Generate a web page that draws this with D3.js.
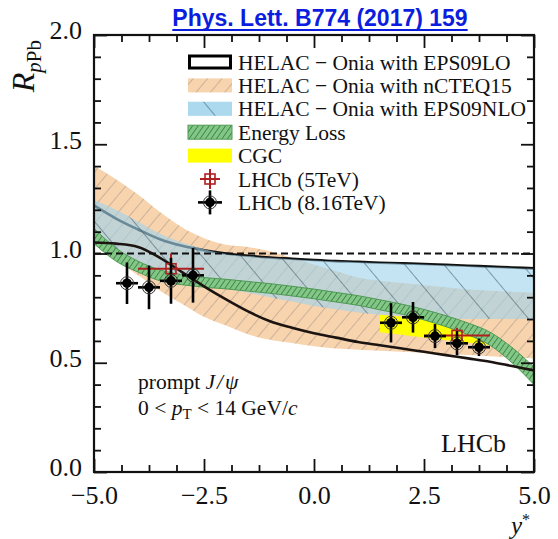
<!DOCTYPE html>
<html>
<head>
<meta charset="utf-8">
<script src="https://cdn.jsdelivr.net/npm/d3@7"></script>
<style>
  body { margin: 0; background: #fff; }
  svg { display: block; }
</style>
</head>
<body>
<div id="chart"></div>
<script>
// Data
const yStar = [-5, -4.5, -4, -3.5, -3, -2.5, -2, -1.5, -1, -0.5, 0, 0.5, 1, 1.5, 2, 2.5, 3, 3.5, 4, 4.5, 5]

const eps09loUpper = [1.22, 1.16, 1.11, 1.065, 1.035, 1.015, 1.0, 0.99, 0.982, 0.976, 0.97, 0.965, 0.962, 0.958, 0.955, 0.952, 0.948, 0.944, 0.94, 0.936, 0.932]
const eps09loLower = [1.05, 1.045, 1.03, 0.98, 0.915, 0.85, 0.79, 0.735, 0.69, 0.66, 0.635, 0.615, 0.595, 0.58, 0.565, 0.55, 0.535, 0.52, 0.505, 0.485, 0.465]

const ncteqUpper = [1.40, 1.34, 1.27, 1.19, 1.12, 1.07, 1.04, 1.03, 1.01, 0.98, 0.95, 0.92, 0.89, 0.875, 0.865, 0.855, 0.845, 0.835, 0.83, 0.825, 0.82]
const ncteqLower = [1.05, 0.97, 0.9, 0.83, 0.77, 0.71, 0.67, 0.63, 0.605, 0.59, 0.575, 0.565, 0.56, 0.555, 0.55, 0.545, 0.54, 0.535, 0.53, 0.525, 0.52]

const eps09nloUpper = [1.245, 1.2, 1.145, 1.09, 1.05, 1.02, 0.998, 0.988, 0.98, 0.974, 0.968, 0.963, 0.96, 0.956, 0.953, 0.95, 0.946, 0.942, 0.938, 0.934, 0.93]
const eps09nloLower = [1.05, 1.0, 0.96, 0.92, 0.89, 0.86, 0.84, 0.82, 0.8, 0.78, 0.76, 0.745, 0.73, 0.72, 0.715, 0.71, 0.705, 0.70, 0.70, 0.70, 0.70]

const elossUpper = [1.115, 1.025, 0.965, 0.925, 0.903, 0.89, 0.882, 0.872, 0.862, 0.85, 0.837, 0.822, 0.807, 0.788, 0.768, 0.744, 0.715, 0.682, 0.64, 0.57, 0.48]
const elossLower = [1.045, 0.965, 0.915, 0.875, 0.857, 0.846, 0.838, 0.828, 0.818, 0.806, 0.793, 0.778, 0.763, 0.742, 0.722, 0.696, 0.665, 0.628, 0.58, 0.5, 0.40]

const cgcY = [1.5, 2, 2.5, 3, 3.5, 4]
const cgcUpper = [0.72, 0.71, 0.70, 0.68, 0.655, 0.635]
const cgcLower = [0.64, 0.628, 0.615, 0.603, 0.592, 0.58]

const lhcb8Y = [-4.25, -3.75, -3.25, -2.75, 1.75, 2.25, 2.75, 3.25, 3.75]
const lhcb8R = [0.864, 0.845, 0.875, 0.90, 0.683, 0.708, 0.622, 0.589, 0.571]
const lhcb8Err = [0.095, 0.10, 0.105, 0.125, 0.09, 0.07, 0.055, 0.055, 0.04]
const lhcb8HalfBin = 0.25

const lhcb5Y = [-3.25, 3.25]
const lhcb5R = [0.93, 0.625]
const lhcb5BinLo = [-4.0, 2.5]
const lhcb5BinHi = [-2.5, 4.0]
const lhcb5Err = [0.07, 0.035]

const xMajor = [-5, -2.5, 0, 2.5, 5]
const xMinorStep = 0.625
const yMajor = [0, 0.5, 1, 1.5, 2]
const yMinorStep = 0.1

const legendLabels = [
  'HELAC − Onia with EPS09LO',
  'HELAC − Onia with nCTEQ15',
  'HELAC − Onia with EPS09NLO',
  'Energy Loss',
  'CGC',
  'LHCb (5TeV)',
  'LHCb (8.16TeV)'
]

// Dimensions
let dimensions = {
  width: 558,
  height: 539,
  margin: { top: 35, bottom: 67, left: 94, right: 24 }
}
dimensions.containerWidth = dimensions.width - dimensions.margin.left - dimensions.margin.right
dimensions.containerHeight = dimensions.height - dimensions.margin.top - dimensions.margin.bottom

const serif = '"Liberation Serif", "Times New Roman", serif'

const svg = d3.select('#chart')
  .append('svg')
  .attr('width', dimensions.width)
  .attr('height', dimensions.height)

// Patterns
const defs = svg.append('defs')

function hatch(id, bg, stroke, spacing, width, angle) {
  const p = defs.append('pattern')
    .attr('id', id)
    .attr('patternUnits', 'userSpaceOnUse')
    .attr('width', spacing)
    .attr('height', spacing)
    .attr('patternTransform', `rotate(${angle})`)
  p.append('rect').attr('width', spacing).attr('height', spacing).attr('fill', bg)
  p.append('line')
    .attr('x1', 0).attr('y1', 0).attr('x2', 0).attr('y2', spacing)
    .attr('stroke', stroke).attr('stroke-width', width)
}
hatch('hatch-orange', '#f7d3ae', '#b3a08e', 11, 1.3, 40)
hatch('hatch-blue', 'rgba(160,212,236,0.62)', '#3d5866', 30, 1.1, -40)
hatch('hatch-green', '#82c785', '#2f6e3a', 4.5, 1.4, 35)

const container = svg.append('g')
  .attr('transform', `translate(${dimensions.margin.left}, ${dimensions.margin.top})`)

// Scales
const xScale = d3.scaleLinear()
  .domain([-5, 5])
  .range([0, dimensions.containerWidth])

const yScale = d3.scaleLinear()
  .domain([0, 2])
  .range([dimensions.containerHeight, 0])

const band = (xs, lo, hi) => d3.area()
  .x((d, i) => xScale(xs[i]))
  .y0((d, i) => yScale(lo[i]))
  .y1((d, i) => yScale(hi[i]))
  .curve(d3.curveMonotoneX)(xs)

const curve = (xs, ys) => d3.line()
  .x((d, i) => xScale(xs[i]))
  .y((d, i) => yScale(ys[i]))
  .curve(d3.curveMonotoneX)(xs)

const plot = container.append('g')

// nCTEQ15
plot.append('path')
  .attr('d', band(yStar, ncteqLower, ncteqUpper))
  .attr('fill', 'url(#hatch-orange)')

// EPS09LO upper edge sits under the NLO band
plot.append('path')
  .attr('d', curve(yStar, eps09loUpper))
  .attr('fill', 'none')
  .attr('stroke', '#111')
  .attr('stroke-width', 2.6)

// EPS09NLO
plot.append('path')
  .attr('d', band(yStar, eps09nloLower, eps09nloUpper))
  .attr('fill', 'url(#hatch-blue)')

// CGC
plot.append('path')
  .attr('d', band(cgcY, cgcLower, cgcUpper))
  .attr('fill', '#ffff00')

// Energy loss
plot.append('path')
  .attr('d', band(yStar, elossLower, elossUpper))
  .attr('fill', 'url(#hatch-green)')
  .attr('stroke', '#4f9a55')
  .attr('stroke-width', 1)

// EPS09LO lower edge
plot.append('path')
  .attr('d', curve(yStar, eps09loLower))
  .attr('fill', 'none')
  .attr('stroke', '#1c1410')
  .attr('stroke-width', 2.6)

// Unity line
plot.append('line')
  .attr('x1', xScale(-5)).attr('x2', xScale(5))
  .attr('y1', yScale(1)).attr('y2', yScale(1))
  .attr('stroke', '#111')
  .attr('stroke-width', 2)
  .attr('stroke-dasharray', '7,4')

// LHCb 5 TeV
const red = '#b0201e'
const g5 = plot.append('g')
lhcb5Y.forEach((y, i) => {
  const cx = xScale(y), cy = yScale(lhcb5R[i])
  g5.append('line')
    .attr('x1', xScale(lhcb5BinLo[i])).attr('x2', xScale(lhcb5BinHi[i]))
    .attr('y1', cy).attr('y2', cy)
    .attr('stroke', red).attr('stroke-width', 2)
  g5.append('line')
    .attr('x1', cx).attr('x2', cx)
    .attr('y1', yScale(lhcb5R[i] + lhcb5Err[i])).attr('y2', yScale(lhcb5R[i] - lhcb5Err[i]))
    .attr('stroke', red).attr('stroke-width', 2)
  g5.append('rect')
    .attr('x', cx - 5).attr('y', cy - 5)
    .attr('width', 10).attr('height', 10)
    .attr('fill', 'none').attr('stroke', red).attr('stroke-width', 1.6)
})

// LHCb 8.16 TeV
const g8 = plot.append('g')
lhcb8Y.forEach((y, i) => {
  const cx = xScale(y), cy = yScale(lhcb8R[i])
  g8.append('line')
    .attr('x1', xScale(y - lhcb8HalfBin)).attr('x2', xScale(y + lhcb8HalfBin))
    .attr('y1', cy).attr('y2', cy)
    .attr('stroke', '#000').attr('stroke-width', 2.6)
  g8.append('line')
    .attr('x1', cx).attr('x2', cx)
    .attr('y1', yScale(lhcb8R[i] + lhcb8Err[i])).attr('y2', yScale(lhcb8R[i] - lhcb8Err[i]))
    .attr('stroke', '#000').attr('stroke-width', 2.6)
  g8.append('circle')
    .attr('cx', cx).attr('cy', cy).attr('r', 6.5)
    .attr('fill', 'none').attr('stroke', '#333').attr('stroke-width', 1)
  g8.append('circle')
    .attr('cx', cx).attr('cy', cy).attr('r', 4.8)
    .attr('fill', '#000')
})

// Axes (ticks point inward, mirrored on top and right)
const xMinor = d3.range(-5, 5.001, xMinorStep).filter(v => !xMajor.some(m => Math.abs(m - v) < 1e-6))
const yMinor = d3.range(0, 2.001, yMinorStep).filter(v => !yMajor.some(m => Math.abs(m - v) < 1e-6))

const axisStyle = g => {
  g.select('.domain').remove()
  g.selectAll('.tick line').attr('stroke', '#111').attr('stroke-width', 1.8)
}

container.append('g')
  .attr('transform', `translate(0, ${dimensions.containerHeight})`)
  .call(d3.axisBottom(xScale).tickValues(xMajor).tickSizeInner(-13).tickSizeOuter(0)
    .tickFormat(d => d3.format('.1f')(d)).tickPadding(14))
  .call(axisStyle)
  .call(g => g.selectAll('text')
    .attr('font-family', serif).attr('font-size', 26).attr('fill', '#111'))

container.append('g')
  .attr('transform', `translate(0, ${dimensions.containerHeight})`)
  .call(d3.axisBottom(xScale).tickValues(xMinor).tickSize(-7).tickFormat(''))
  .call(axisStyle)

container.append('g')
  .call(d3.axisTop(xScale).tickValues(xMajor).tickSize(-13).tickFormat(''))
  .call(axisStyle)
container.append('g')
  .call(d3.axisTop(xScale).tickValues(xMinor).tickSize(-7).tickFormat(''))
  .call(axisStyle)

container.append('g')
  .call(d3.axisLeft(yScale).tickValues(yMajor).tickSizeInner(-13).tickSizeOuter(0)
    .tickFormat(d3.format('.1f')).tickPadding(12))
  .call(axisStyle)
  .call(g => g.selectAll('text')
    .attr('dy', '0.15em')
    .attr('font-family', serif).attr('font-size', 26).attr('fill', '#111'))
container.append('g')
  .call(d3.axisLeft(yScale).tickValues(yMinor).tickSize(-7).tickFormat(''))
  .call(axisStyle)

container.append('g')
  .attr('transform', `translate(${dimensions.containerWidth}, 0)`)
  .call(d3.axisRight(yScale).tickValues(yMajor).tickSize(-13).tickFormat(''))
  .call(axisStyle)
container.append('g')
  .attr('transform', `translate(${dimensions.containerWidth}, 0)`)
  .call(d3.axisRight(yScale).tickValues(yMinor).tickSize(-7).tickFormat(''))
  .call(axisStyle)

// Frame
container.append('rect')
  .attr('width', dimensions.containerWidth)
  .attr('height', dimensions.containerHeight)
  .attr('fill', 'none')
  .attr('stroke', '#111')
  .attr('stroke-width', 2.2)

// Axis titles
const yTitle = svg.append('text')
  .attr('transform', 'translate(34, 40) rotate(-90)')
  .attr('text-anchor', 'end')
  .attr('font-family', serif)
  .attr('font-size', 32)
  .attr('fill', '#111')
yTitle.append('tspan').attr('font-style', 'italic').text('R')
yTitle.append('tspan').attr('font-size', 21).attr('dy', 7).attr('font-style', 'italic').text('p')
yTitle.append('tspan').attr('font-size', 21).text('Pb')

const xTitle = svg.append('text')
  .attr('x', 530).attr('y', 533.5)
  .attr('text-anchor', 'end')
  .attr('font-family', serif)
  .attr('font-size', 25)
  .attr('fill', '#111')
xTitle.append('tspan').attr('font-style', 'italic').text('y')
xTitle.append('tspan').attr('font-size', 16).attr('dy', -9).text('*')

// Legend
const legend = svg.append('g')
const rowY = i => 62 + i * 23.4
const boxX = 188, boxW = 44, boxH = 14

legendLabels.forEach((label, i) => {
  legend.append('text')
    .attr('x', 238).attr('y', rowY(i))
    .attr('dy', '0.35em')
    .attr('font-family', serif)
    .attr('font-size', 21.5)
    .attr('fill', '#111')
    .text(label)
})

legend.append('rect')
  .attr('x', boxX + 1.5).attr('y', rowY(0) - boxH / 2 + 1)
  .attr('width', boxW - 3).attr('height', boxH - 2)
  .attr('fill', 'none').attr('stroke', '#000').attr('stroke-width', 3)
legend.append('rect')
  .attr('x', boxX).attr('y', rowY(1) - boxH / 2)
  .attr('width', boxW).attr('height', boxH)
  .attr('fill', 'url(#hatch-orange)')
legend.append('rect')
  .attr('x', boxX).attr('y', rowY(2) - boxH / 2)
  .attr('width', boxW).attr('height', boxH)
  .attr('fill', '#bfe3f3')
legend.append('rect')
  .attr('x', boxX).attr('y', rowY(2) - boxH / 2)
  .attr('width', boxW).attr('height', boxH)
  .attr('fill', 'url(#hatch-blue)')
legend.append('rect')
  .attr('x', boxX).attr('y', rowY(3) - boxH / 2)
  .attr('width', boxW).attr('height', boxH)
  .attr('fill', 'url(#hatch-green)')
  .attr('stroke', '#4f9a55')
legend.append('rect')
  .attr('x', boxX).attr('y', rowY(4) - boxH / 2)
  .attr('width', boxW).attr('height', boxH)
  .attr('fill', '#ffff00')

const mx = boxX + boxW / 2
legend.append('line')
  .attr('x1', mx - 10).attr('x2', mx + 10).attr('y1', rowY(5)).attr('y2', rowY(5))
  .attr('stroke', red).attr('stroke-width', 2)
legend.append('line')
  .attr('x1', mx).attr('x2', mx).attr('y1', rowY(5) - 10).attr('y2', rowY(5) + 10)
  .attr('stroke', red).attr('stroke-width', 2)
legend.append('rect')
  .attr('x', mx - 5).attr('y', rowY(5) - 5).attr('width', 10).attr('height', 10)
  .attr('fill', 'none').attr('stroke', red).attr('stroke-width', 1.6)

legend.append('line')
  .attr('x1', mx - 12).attr('x2', mx + 12).attr('y1', rowY(6)).attr('y2', rowY(6))
  .attr('stroke', '#000').attr('stroke-width', 2.6)
legend.append('line')
  .attr('x1', mx).attr('x2', mx).attr('y1', rowY(6) - 12).attr('y2', rowY(6) + 12)
  .attr('stroke', '#000').attr('stroke-width', 2.6)
legend.append('circle')
  .attr('cx', mx).attr('cy', rowY(6)).attr('r', 6.5)
  .attr('fill', 'none').attr('stroke', '#333')
legend.append('circle')
  .attr('cx', mx).attr('cy', rowY(6)).attr('r', 4.8)
  .attr('fill', '#000')

// Annotations
const note1 = svg.append('text')
  .attr('x', 138).attr('y', 389)
  .attr('font-family', serif).attr('font-size', 21.5).attr('fill', '#111')
note1.append('tspan').text('prompt ')
note1.append('tspan').attr('font-style', 'italic').attr('letter-spacing', 2).text('J/ψ')

const note2 = svg.append('text')
  .attr('x', 138).attr('y', 415)
  .attr('font-family', serif).attr('font-size', 21.5).attr('fill', '#111')
note2.append('tspan').text('0 < ')
note2.append('tspan').attr('font-style', 'italic').text('p')
note2.append('tspan').attr('font-size', 15).attr('dy', 4).text('T')
note2.append('tspan').attr('dy', -4).text(' < 14 GeV/')
note2.append('tspan').attr('font-style', 'italic').text('c')

svg.append('text')
  .attr('x', 506).attr('y', 452)
  .attr('text-anchor', 'end')
  .attr('font-family', serif).attr('font-size', 26).attr('fill', '#111')
  .text('LHCb')

// Reference link
const link = svg.append('text')
  .attr('x', 320).attr('y', 26)
  .attr('text-anchor', 'middle')
  .attr('font-family', '"Liberation Sans", Arial, sans-serif')
  .attr('font-weight', 'bold')
  .attr('font-size', 23)
  .attr('fill', '#0b1ee0')
  .text('Phys. Lett. B774 (2017) 159')
const lw = link.node().getComputedTextLength()
svg.append('line')
  .attr('x1', 320 - lw / 2).attr('x2', 320 + lw / 2)
  .attr('y1', 30).attr('y2', 30)
  .attr('stroke', '#0b1ee0').attr('stroke-width', 1.8)
</script>
</body>
</html>
